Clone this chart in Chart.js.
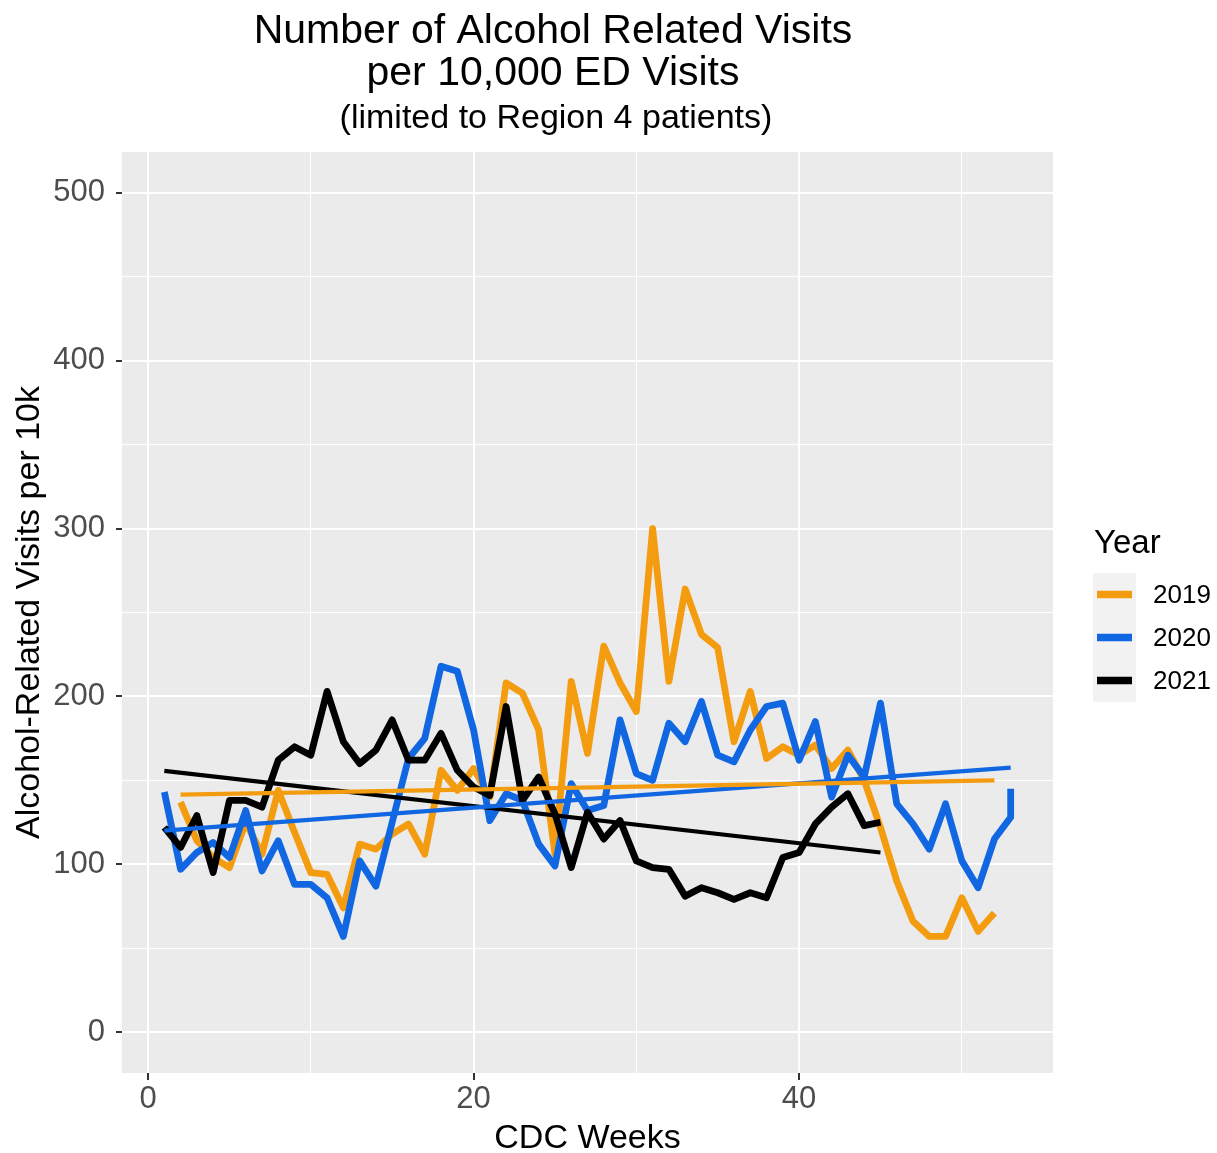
<!DOCTYPE html>
<html><head><meta charset="utf-8">
<script src="https://cdn.jsdelivr.net/npm/chart.js@4.4.1/dist/chart.umd.min.js"></script>
<style>html,body{margin:0;padding:0;background:#fff}</style>
</head><body>
<canvas id="c" width="1217" height="1153"></canvas>
<script>
// ---- data ----
const titleLines = ['Number of Alcohol Related Visits', 'per 10,000 ED Visits'];
const subtitle = '(limited to Region 4 patients)';
const xTitle = 'CDC Weeks';
const yTitle = 'Alcohol-Related Visits per 10k';
const legendTitle = 'Year';
const years = ['2019', '2020', '2021'];
const colors = ['#F49C10', '#1166E2', '#000000'];

const weeks2019 = [2,3,4,5,6,7,8,9,10,11,12,13,14,15,16,17,18,19,20,21,22,23,24,25,26,27,28,29,30,31,32,33,34,35,36,37,38,39,40,41,42,43,44,45,46,47,48,49,50,51,52];
const values2019 = [137,114,104,98,125,106,144,119,95,94,74,112,109,118,124,106,156,144,157,140,208,202,180,106,209,166,230,208,191,300,209,264,237,229,173,203,163,170,165,171,157,168,150,122,90,66,57,57,80,60,71];

const weeks2020 = [1,2,3,4,5,6,7,8,9,10,11,12,13,14,15,16,17,18,19,20,21,22,23,24,25,26,27,28,29,30,31,32,33,34,35,36,37,38,39,40,41,42,43,44,45,46,47,48,49,50,51,52,53,53];
const values2020 = [143,97,107,113,104,132,96,114,88,88,80,57,102,87,125,163,175,218,215,180,126,142,138,112,99,148,132,135,186,154,150,184,173,197,165,161,180,194,196,162,185,140,165,152,196,136,124,109,136,102,86,115,128,145];

const weeks2021 = [1,2,3,4,5,6,7,8,9,10,11,12,13,14,15,16,17,18,19,20,21,22,23,24,25,26,27,28,29,30,31,32,33,34,35,36,37,38,39,40,41,42,43,44,45];
const values2021 = [122,110,129,95,138,138,134,162,170,165,203,173,160,168,186,162,162,178,156,146,141,194,138,152,130,98,131,115,126,102,98,97,81,86,83,79,83,80,104,107,124,134,142,123,125];

// linear trend end points
const trendWeeks2019 = [2, 52];   const trendValues2019 = [141.5, 150];
const trendWeeks2020 = [1, 53];   const trendValues2020 = [120, 157.6];
const trendWeeks2021 = [1, 45];   const trendValues2021 = [155.6, 107];

const xTicks = [0, 10, 20, 30, 40, 50];
const xLabelTicks = [0, 20, 40];
const yTicks = [0, 50, 100, 150, 200, 250, 300, 350, 400, 450, 500];
const yLabelTicks = [0, 100, 200, 300, 400, 500];

// ---- build ----
const FONT = "'Liberation Sans', Arial, Helvetica, sans-serif";
const pts = (xs, ys) => xs.map((x, i) => ({x: x, y: ys[i]}));

const series = [
  {label: years[0], data: pts(weeks2019, values2019), borderColor: colors[0], borderWidth: 6.8, order: 3},
  {label: years[1], data: pts(weeks2020, values2020), borderColor: colors[1], borderWidth: 6.8, order: 2},
  {label: years[2], data: pts(weeks2021, values2021), borderColor: colors[2], borderWidth: 6.8, order: 1},
  {label: 'trend ' + years[0], isTrend: true, data: pts(trendWeeks2019, trendValues2019), borderColor: colors[0], borderWidth: 4.2, order: 0},
  {label: 'trend ' + years[1], isTrend: true, data: pts(trendWeeks2020, trendValues2020), borderColor: colors[1], borderWidth: 4.2, order: 0},
  {label: 'trend ' + years[2], isTrend: true, data: pts(trendWeeks2021, trendValues2021), borderColor: colors[2], borderWidth: 4.2, order: 0}
];
series.forEach(d => { d.fill = false; d.pointRadius = 0; d.tension = 0; d.borderJoinStyle = 'round'; d.borderCapStyle = 'butt'; });

const panelPlugin = {
  id: 'panel',
  beforeDraw(chart) {
    const {ctx, chartArea: a} = chart;
    ctx.save();
    ctx.fillStyle = '#EBEBEB';
    ctx.fillRect(a.left, a.top, a.right - a.left, a.bottom - a.top);
    ctx.restore();
  },
  afterDraw(chart) {
    const {ctx, chartArea: a} = chart;
    ctx.save();
    ctx.fillStyle = '#000';
    ctx.textAlign = 'center';
    ctx.textBaseline = 'alphabetic';
    ctx.font = '41px ' + FONT;
    ctx.fillText(titleLines[0], 553, 43);
    ctx.fillText(titleLines[1], 553, 85);
    ctx.font = '34px ' + FONT;
    ctx.fillText(subtitle, 556, 128);
    // axis titles
    ctx.fillText(xTitle, (a.left + a.right) / 2, 1148);
    ctx.save();
    ctx.translate(39, (a.top + a.bottom) / 2);
    ctx.rotate(-Math.PI / 2);
    ctx.fillText(yTitle, 0, 0);
    ctx.restore();
    // legend
    ctx.textAlign = 'left';
    ctx.font = '33px ' + FONT;
    ctx.fillText(legendTitle, 1094, 553);
    const items = chart.data.datasets.filter(d => !d.isTrend);
    ctx.fillStyle = '#F2F2F2';
    ctx.fillRect(1093, 573, 43, 43 * items.length);
    ctx.font = '26px ' + FONT;
    ctx.textBaseline = 'middle';
    items.forEach((d, i) => {
      const y = 594.5 + 43 * i;
      ctx.strokeStyle = d.borderColor;
      ctx.lineWidth = 7.5;
      ctx.lineCap = 'butt';
      ctx.beginPath(); ctx.moveTo(1097, y); ctx.lineTo(1132, y); ctx.stroke();
      ctx.fillStyle = '#000';
      ctx.fillText(d.label, 1153, y + 1);
    });
    ctx.restore();
  }
};

new Chart(document.getElementById('c'), {
  type: 'line',
  data: {datasets: series},
  options: {
    responsive: false,
    animation: false,
    devicePixelRatio: 1,
    layout: {padding: {top: 152, right: 164, left: 0, bottom: 0}},
    plugins: {legend: {display: false}, tooltip: {enabled: false}, title: {display: false}},
    scales: {
      x: {
        type: 'linear', min: -1.6, max: 55.6,
        afterBuildTicks: s => { s.ticks = xTicks.map(v => ({value: v})); },
        afterFit: s => { s.height = 80; },
        border: {display: false},
        grid: {
          color: '#FFFFFF',
          lineWidth: c => xLabelTicks.includes(c.tick && c.tick.value) ? 2 : 1,
          tickColor: c => xLabelTicks.includes(c.tick && c.tick.value) ? '#333333' : 'rgba(0,0,0,0)',
          tickWidth: 2, tickLength: 7
        },
        ticks: {
          autoSkip: false, maxRotation: 0, padding: 1, color: '#4D4D4D',
          font: {family: FONT, size: 31},
          callback: v => xLabelTicks.includes(v) ? String(v) : ''
        }
      },
      y: {
        type: 'linear', min: -24.4, max: 524.4,
        afterBuildTicks: s => { s.ticks = yTicks.map(v => ({value: v})); },
        afterFit: s => { s.width = 122; },
        border: {display: false},
        grid: {
          color: '#FFFFFF',
          lineWidth: c => yLabelTicks.includes(c.tick && c.tick.value) ? 2 : 1,
          tickColor: c => yLabelTicks.includes(c.tick && c.tick.value) ? '#333333' : 'rgba(0,0,0,0)',
          tickWidth: 2, tickLength: 6
        },
        ticks: {
          autoSkip: false, padding: 11, color: '#4D4D4D',
          font: {family: FONT, size: 31},
          callback: v => yLabelTicks.includes(v) ? String(v) : ''
        }
      }
    }
  },
  plugins: [panelPlugin]
});
</script>
</body></html>
